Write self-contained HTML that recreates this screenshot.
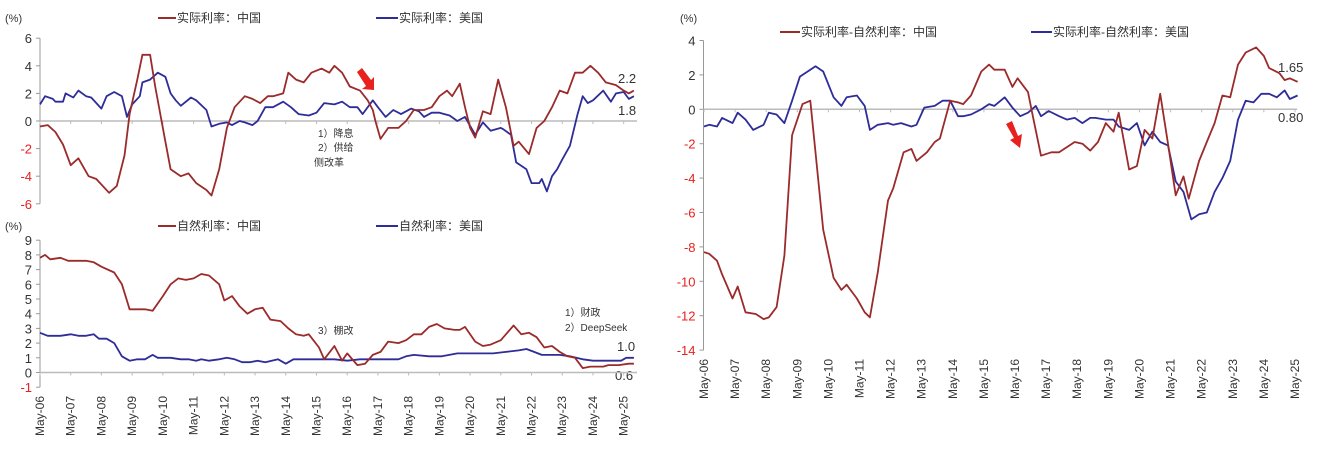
<!DOCTYPE html>
<html><head><meta charset="utf-8"><style>
body{margin:0;background:#fff;}
svg{display:block;font-family:"Liberation Sans","Noto Sans CJK SC",sans-serif;}
</style></head><body>
<svg id="c" width="1317" height="450" viewBox="0 0 1317 450">
<text x="5" y="22" font-size="11" fill="#333">(%)</text>
<line x1="158" y1="18" x2="176" y2="18" stroke="#9b2b2b" stroke-width="2"/>
<text x="177" y="22" font-size="12" fill="#333">实际利率：中国</text>
<line x1="376" y1="18" x2="398" y2="18" stroke="#2e2c98" stroke-width="2"/>
<text x="399" y="22" font-size="12" fill="#333">实际利率：美国</text>
<text x="618" y="83" font-size="13" fill="#333">2.2</text>
<text x="618" y="115" font-size="13" fill="#333">1.8</text>
<text x="318" y="137" font-size="10" fill="#333">1）降息</text>
<text x="318" y="151" font-size="10" fill="#333">2）供给</text>
<text x="314" y="166" font-size="10" fill="#333">侧改革</text>
<polygon points="357,72 362,68 371,80 374,77 374,90 362,89 366,86" fill="#e8201e"/>

<text x="5" y="230" font-size="11" fill="#333">(%)</text>
<line x1="158" y1="226" x2="176" y2="226" stroke="#9b2b2b" stroke-width="2"/>
<text x="177" y="230" font-size="12" fill="#333">自然利率：中国</text>
<line x1="376" y1="226" x2="398" y2="226" stroke="#2e2c98" stroke-width="2"/>
<text x="399" y="230" font-size="12" fill="#333">自然利率：美国</text>
<text x="318" y="334" font-size="10" fill="#333">3）棚改</text>
<text x="565" y="316" font-size="10" fill="#333">1）财政</text>
<text x="565" y="331" font-size="10" fill="#333">2）DeepSeek</text>
<text x="617" y="351" font-size="13" fill="#333">1.0</text>
<text x="615" y="380" font-size="13" fill="#333">0.6</text>

<text x="680" y="22" font-size="11" fill="#333">(%)</text>
<line x1="780" y1="32" x2="800" y2="32" stroke="#9b2b2b" stroke-width="2"/>
<text x="801" y="36" font-size="12" fill="#333">实际利率-自然利率：中国</text>
<line x1="1031" y1="32" x2="1052" y2="32" stroke="#2e2c98" stroke-width="2"/>
<text x="1053" y="36" font-size="12" fill="#333">实际利率-自然利率：美国</text>
<text x="1278" y="72" font-size="13" fill="#333">1.65</text>
<text x="1278" y="122" font-size="13" fill="#333">0.80</text>
<polygon points="1006,124 1012,121 1018,136 1022,134 1020,148 1010,140 1014,138" fill="#e8201e"/>
</svg>
<script>
const xTickLabels=["May-06","May-07","May-08","May-09","May-10","May-11","May-12","May-13","May-14","May-15","May-16","May-17","May-18","May-19","May-20","May-21","May-22","May-23","May-24","May-25"];
const topTicks=[6,4,2,0,-2,-4,-6];
const botTicks=[9,8,7,6,5,4,3,2,1,0,-1];
const rightTicks=[4,2,0,-2,-4,-6,-8,-10,-12,-14];
// months since May-06
const cnRealM=[0,3,6,9,12,15,19,22,27,30,33,35,38,40,43,45,49,51,55,58,61,65,67,70,73,76,80,83,86,89,91,95,97,100,103,106,110,113,115,118,121,125,128,130,131,133,136,140,143,146,150,153,156,159,161,164,166,168,170,173,176,179,182,185,187,191,194,197,200,203,206,209,212,215,218,221,225,228,230,232];
const cnRealV=[-0.4,-0.3,-0.8,-1.7,-3.2,-2.7,-4.0,-4.2,-5.2,-4.7,-2.5,0.5,3.0,4.8,4.8,2.5,-1.5,-3.5,-4.0,-3.8,-4.5,-5.0,-5.4,-3.5,-0.5,1.0,1.8,1.6,1.3,1.8,1.8,2.0,3.5,3.0,2.8,3.5,3.8,3.5,4.0,3.5,2.5,2.2,1.5,0.8,0,-1.3,-0.5,-0.5,0,0.8,0.8,1.0,1.8,2.2,1.8,2.7,1.0,-0.5,-1.2,0.7,0.5,3.0,1.0,-1.8,-1.5,-2.4,-0.5,0,1.0,2.2,2.0,3.5,3.5,4.0,3.5,2.8,2.6,2.2,2.0,2.2];
const usRealM=[0,2,5,6,9,10,13,15,18,20,24,26,29,32,34,36,39,40,43,46,49,51,53,55,59,61,65,67,70,73,75,78,80,83,85,88,91,95,98,101,105,108,111,115,118,121,124,126,130,132,135,138,141,145,148,150,153,156,160,163,166,170,173,176,180,181,184,186,190,192,195,196,198,200,202,204,207,210,212,214,216,220,223,225,228,230,232];
const usRealV=[1.2,1.8,1.6,1.4,1.4,2.0,1.7,2.2,1.8,1.7,0.9,1.8,2.1,1.8,0.3,1.2,1.8,2.8,3.0,3.5,3.2,2.0,1.5,1.1,1.7,1.5,0.8,-0.4,-0.2,-0.1,-0.3,0,-0.1,-0.3,0,1.0,1.0,1.4,1.0,0.5,0.4,0.6,1.3,1.2,1.4,1.0,1.0,0.5,1.5,1.0,0.3,0.8,0.5,0.9,0.7,0.3,0.6,0.6,0.4,0,0.3,-1.0,-0.1,-0.7,-0.5,-0.6,-1.0,-3.0,-3.5,-4.5,-4.5,-4.2,-5.1,-4.0,-3.5,-2.8,-1.8,0.5,1.8,1.3,1.5,2.2,1.4,2.0,2.1,1.6,1.8];
const cnNatM=[0,2,4,8,11,18,21,24,29,32,35,41,44,48,51,54,57,60,63,66,70,72,75,78,81,84,87,90,94,97,100,103,105,109,111,115,118,120,124,127,130,133,136,140,143,146,149,152,155,158,162,164,166,170,173,176,180,182,185,188,191,194,197,200,203,206,209,212,215,220,222,226,230,232];
const cnNatV=[7.8,8.0,7.7,7.8,7.6,7.6,7.5,7.2,6.8,6.0,4.3,4.3,4.2,5.2,6.0,6.4,6.3,6.4,6.7,6.6,6.0,4.9,5.2,4.5,4.0,4.3,4.4,3.6,3.5,3.0,2.6,2.5,2.6,1.7,0.9,1.8,0.8,1.3,0.5,0.6,1.2,1.4,2.1,2.0,2.2,2.6,2.6,3.1,3.3,3.0,2.9,2.9,3.1,2.1,1.8,1.9,2.2,2.6,3.2,2.6,2.7,2.4,1.7,1.8,1.4,1.1,1.0,0.3,0.4,0.4,0.5,0.5,0.6,0.6];
const usNatM=[0,3,8,12,15,18,21,23,26,29,32,35,38,41,44,46,51,55,58,61,63,66,70,73,76,79,82,85,88,93,96,99,103,106,110,115,120,125,130,135,140,143,146,152,157,163,168,172,177,182,187,190,193,196,199,203,207,212,216,220,224,227,229,232];
const usNatV=[2.7,2.5,2.5,2.6,2.5,2.5,2.6,2.3,2.3,2.0,1.1,0.8,0.9,0.9,1.2,1.0,1.0,0.9,0.9,0.8,0.9,0.8,0.9,1.0,0.9,0.7,0.7,0.8,0.7,0.9,0.6,0.9,0.9,0.9,0.9,0.9,0.8,0.9,0.9,0.9,0.9,1.1,1.2,1.1,1.1,1.3,1.3,1.3,1.3,1.4,1.5,1.6,1.4,1.2,1.2,1.2,1.1,0.9,0.8,0.8,0.8,0.8,1.0,1.0];
const cnGapM=[0,2,5,7,11,13,16,20,23,25,28,31,34,38,41,43,46,50,53,55,59,62,64,67,71,73,77,80,82,86,89,91,95,98,100,103,107,110,112,116,119,121,125,127,130,134,137,140,143,146,149,152,155,158,160,164,167,170,173,176,179,182,185,187,191,194,197,200,203,206,209,213,216,218,222,224,226,229];
const cnGapV=[-8.3,-8.4,-8.8,-9.6,-11.0,-10.3,-11.8,-11.9,-12.2,-12.1,-11.5,-8.5,-1.5,0.3,0.5,-2.5,-7.0,-9.8,-10.5,-10.2,-11.0,-11.8,-12.1,-9.5,-5.3,-4.6,-2.5,-2.3,-3.0,-2.5,-1.9,-1.7,0.5,0.4,0.3,0.8,2.2,2.6,2.3,2.3,1.3,1.8,1.0,-0.5,-2.7,-2.5,-2.5,-2.2,-1.9,-2.0,-2.4,-1.9,-0.8,-1.3,-0.2,-3.5,-3.3,-1.2,-1.7,0.9,-2.0,-5.0,-3.9,-5.2,-3.0,-1.9,-0.8,0.8,0.7,2.6,3.3,3.6,3.1,2.4,2.1,1.7,1.8,1.6];
const usGapM=[0,2,5,7,11,13,16,19,23,25,28,31,34,37,41,43,46,50,53,55,59,62,64,67,71,73,76,80,82,85,89,92,95,98,100,103,107,110,112,116,119,122,125,128,130,133,137,140,143,146,149,151,155,158,160,164,167,170,173,176,179,182,185,188,191,194,197,200,203,206,209,212,215,218,221,224,226,229];
const usGapV=[-1.0,-0.9,-1.0,-0.5,-0.8,-0.2,-0.6,-1.2,-0.9,-0.2,-0.3,-0.8,0.5,1.9,2.3,2.5,2.2,0.7,0.2,0.7,0.8,0.2,-1.2,-0.9,-0.8,-0.9,-0.8,-1.0,-0.9,0.1,0.2,0.5,0.5,-0.4,-0.4,-0.3,0,0.3,0.2,0.7,0.1,-0.4,-0.2,0.2,-0.4,-0.1,-0.4,-0.6,-0.5,-0.8,-0.5,-0.5,-0.6,-0.6,-1.0,-1.2,-0.8,-2.1,-1.3,-1.9,-2.1,-4.2,-4.8,-6.4,-6.1,-6.0,-4.8,-4.0,-3.0,-0.6,0.5,0.4,0.9,0.9,0.7,1.1,0.6,0.8];

const svg=document.getElementById('c');
const NS='http://www.w3.org/2000/svg';
function mk(tag,attrs){const e=document.createElementNS(NS,tag);for(const k in attrs)e.setAttribute(k,attrs[k]);svg.appendChild(e);return e;}
const RED='#9b2b2b',BLUE='#2e2c98';

function panel(p){
  const xs=m=>p.x0+m*p.dx;
  const ys=v=>p.yZero-v*p.dy;
  const ax=mk('line',{x1:p.axX,y1:ys(p.ticks[0]),x2:p.axX,y2:ys(p.ticks[p.ticks.length-1]),stroke:'#999','stroke-width':1});
  
  
  p.ticks.forEach(t=>{
    const tk=mk('line',{x1:p.axX-4,y1:ys(t),x2:p.axX,y2:ys(t),stroke:'#999'});
    
    
    const tx=mk('text',{x:p.axX-8,y:ys(t)+5,'font-size':13,'text-anchor':'end',fill:t<0?'#e8201e':'#333'});
    tx.textContent=t;
    
    
  });
  const zl=mk('line',{x1:p.axX,y1:ys(0),x2:p.xEnd,y2:ys(0),stroke:'#bbb','stroke-width':1.5});
  
  
  xTickLabels.forEach((l,i)=>{
    const x=xs(i*12);
    const tk=mk('line',{x1:x,y1:ys(0),x2:x,y2:ys(0)+3,stroke:'#bbb'});
    
    
    if(p.labelY){
      const tx=mk('text',{x:0,y:0,'font-size':12,'text-anchor':'end',fill:'#333',transform:`translate(${x+4},${p.labelY}) rotate(-90)`});
      tx.textContent=l;
      
      
    }
  });
  p.series.forEach(s=>{
    const d=s.m.map((m,i)=>(i?'L':'M')+xs(m).toFixed(1)+','+ys(s.v[i]).toFixed(1)).join('');
    const pa=mk('path',{d:d,fill:'none',stroke:s.c,'stroke-width':1.8,'stroke-linejoin':'round'});
    
    
  });
}
panel({name:'top-left',x0:40,dx:2.56,yZero:121,dy:13.8,axX:40,xEnd:637,ticks:topTicks,labelY:null,
  series:[{m:usRealM,v:usRealV,c:BLUE,name:'line-us-real'},{m:cnRealM,v:cnRealV,c:RED,name:'line-cn-real'}]});
panel({name:'bottom-left',x0:40,dx:2.56,yZero:372.5,dy:14.7,axX:40,xEnd:637,ticks:botTicks,labelY:396,
  series:[{m:usNatM,v:usNatV,c:BLUE,name:'line-us-natural'},{m:cnNatM,v:cnNatV,c:RED,name:'line-cn-natural'}]});
panel({name:'right',x0:704,dx:2.592,yZero:109.3,dy:17.2,axX:703.5,xEnd:1297,ticks:rightTicks,labelY:359,
  series:[{m:usGapM,v:usGapV,c:BLUE,name:'line-us-gap'},{m:cnGapM,v:cnGapV,c:RED,name:'line-cn-gap'}]});
</script>
</body></html>
